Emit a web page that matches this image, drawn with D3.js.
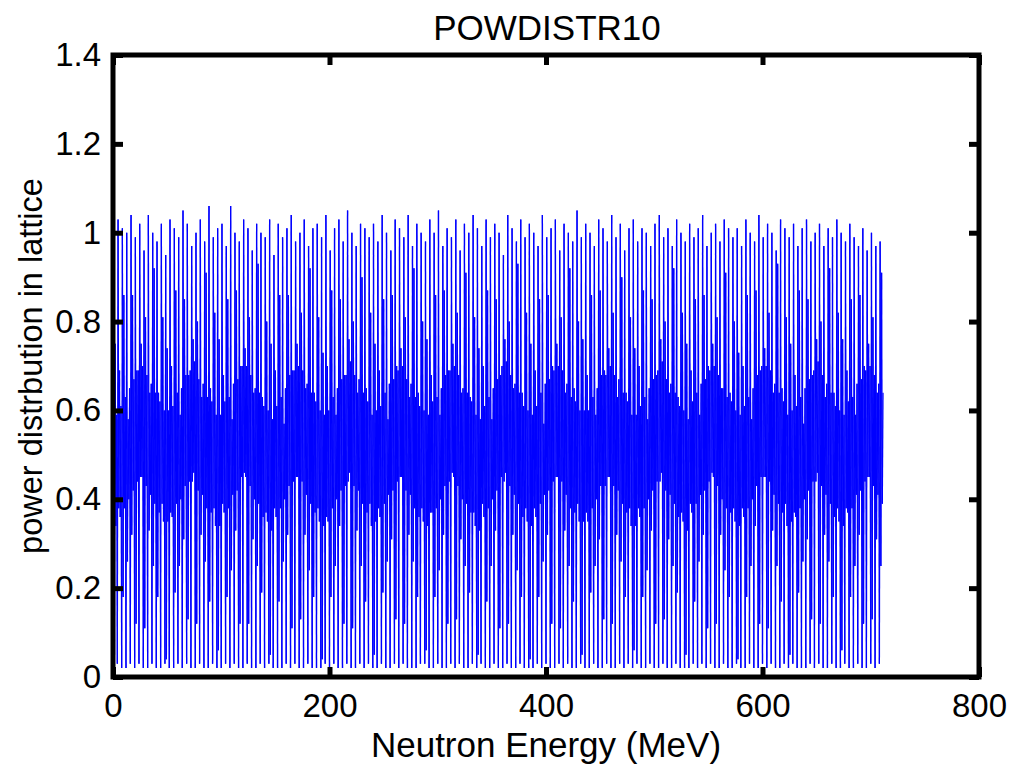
<!DOCTYPE html>
<html>
<head>
<meta charset="utf-8">
<script src="https://cdn.jsdelivr.net/npm/d3@7"></script>
<style>
  body { margin: 0; background: #fff; }
  text { font-family: "Liberation Sans", Arial, sans-serif; fill: #000; }
</style>
</head>
<body>
<div id="chart"></div>
<script>

// values, one entry per group of 6 samples (group = 4 MeV)
// floor of each group (the line almost touches zero every few MeV)
const floorVals = [
  0.02, 0.03, 0.02, 0.02, 0.03, 0.02, 0.03, 0.02, 0.02, 0.03, 0.02, 0.02,
  0.03, 0.02, 0.02, 0.03, 0.02, 0.03, 0.02, 0.02, 0.03, 0.02, 0.02, 0.03,
  0.02, 0.02, 0.03, 0.02, 0.03, 0.02, 0.02, 0.03, 0.02, 0.02, 0.03, 0.02,
  0.03, 0.02, 0.02, 0.02, 0.03, 0.02, 0.03, 0.02, 0.02, 0.03, 0.02, 0.02,
  0.02, 0.03, 0.02, 0.03, 0.02, 0.02, 0.03, 0.02, 0.02, 0.03, 0.02, 0.03,
  0.02, 0.02, 0.03, 0.02, 0.02, 0.03, 0.02, 0.03, 0.02, 0.02, 0.02, 0.03,
  0.03, 0.02, 0.02, 0.03, 0.02, 0.02, 0.03, 0.02, 0.03, 0.02, 0.02, 0.03,
  0.02, 0.03, 0.02, 0.02, 0.03, 0.02, 0.02, 0.03, 0.02, 0.02, 0.03, 0.02,
  0.02, 0.02, 0.03, 0.02, 0.03, 0.02, 0.02, 0.03, 0.02, 0.03, 0.02, 0.02,
  0.03, 0.02, 0.02, 0.03, 0.02, 0.02, 0.03, 0.02, 0.02, 0.03, 0.02, 0.03,
  0.02, 0.03, 0.02, 0.02, 0.03, 0.02, 0.02, 0.03, 0.02, 0.02, 0.03, 0.02,
  0.02, 0.02, 0.03, 0.02, 0.03, 0.02, 0.03, 0.02, 0.02, 0.03, 0.02, 0.02,
  0.03, 0.02, 0.02, 0.03, 0.02, 0.02, 0.03, 0.02, 0.03, 0.02, 0.02, 0.03,
  0.02, 0.03, 0.02, 0.02, 0.02, 0.03, 0.02, 0.03, 0.02, 0.02, 0.03, 0.02,
  0.02, 0.03, 0.02, 0.02, 0.03, 0.02, 0.02, 0.03, 0.02, 0.03
];

// the tall spikes along the top edge
const peakVals = [
  0.97, 1.03, 1.01, 1.00, 1.04, 0.99, 1.02, 0.96, 1.04, 1.00, 0.98, 1.02,
  0.95, 1.03, 1.01, 0.99, 1.05, 1.02, 0.97, 1.00, 1.03, 0.98, 1.06, 0.99,
  1.01, 1.02, 0.97, 1.06, 1.00, 0.98, 1.03, 1.01, 0.96, 1.02, 1.00, 0.99,
  1.03, 0.95, 1.02, 0.99, 1.01, 1.04, 0.98, 1.00, 1.03, 0.97, 1.01, 1.02,
  0.99, 1.04, 0.96, 1.01, 1.03, 0.98, 1.05, 1.00, 0.97, 1.02, 1.01, 0.99,
  1.02, 0.98, 1.04, 1.00, 0.96, 1.03, 1.01, 0.99, 1.04, 0.97, 1.02, 1.00,
  0.98, 1.03, 1.00, 1.05, 0.97, 1.01, 0.99, 1.03, 0.96, 1.02, 1.00, 1.04,
  1.01, 0.97, 1.03, 0.99, 1.02, 1.00, 0.95, 1.04, 1.01, 0.98, 1.03, 0.99,
  1.02, 1.00, 0.97, 1.04, 0.99, 1.01, 1.03, 0.96, 1.02, 1.00, 0.98, 1.05,
  0.99, 1.02, 1.00, 0.97, 1.03, 1.01, 0.98, 1.04, 0.99, 1.02, 0.96, 1.01,
  1.03, 0.98, 1.01, 1.00, 0.97, 1.02, 1.04, 0.99, 1.01, 0.97, 1.03, 1.00,
  0.98, 1.02, 0.99, 1.01, 1.04, 0.97, 1.00, 1.02, 0.98, 1.03, 1.01, 0.99,
  1.01, 0.97, 1.03, 1.00, 0.98, 1.04, 0.99, 1.02, 1.00, 0.96, 1.03, 1.01,
  0.99, 1.02, 0.97, 1.01, 1.03, 0.98, 1.00, 1.02, 0.97, 1.01, 0.99, 1.03,
  1.00, 0.98, 1.02, 0.99, 0.97, 1.01, 0.96, 1.00, 0.97, 0.98
];

// deep inner lows (diamonds in the lower half)
const lowVals = [
  0.05, 0.38, 0.18, 0.26, 0.32, 0.12, 0.45, 0.11, 0.33, 0.25, 0.18, 0.39,
  0.04, 0.37, 0.19, 0.25, 0.31, 0.13, 0.44, 0.12, 0.32, 0.26, 0.17, 0.38,
  0.06, 0.39, 0.18, 0.24, 0.33, 0.12, 0.46, 0.12, 0.31, 0.25, 0.19, 0.37,
  0.05, 0.38, 0.17, 0.26, 0.32, 0.11, 0.45, 0.13, 0.32, 0.24, 0.18, 0.38,
  0.04, 0.36, 0.18, 0.25, 0.34, 0.12, 0.44, 0.11, 0.33, 0.25, 0.17, 0.39,
  0.05, 0.38, 0.19, 0.26, 0.31, 0.13, 0.45, 0.12, 0.32, 0.26, 0.18, 0.38,
  0.06, 0.37, 0.18, 0.24, 0.32, 0.12, 0.46, 0.13, 0.31, 0.25, 0.19, 0.37,
  0.05, 0.39, 0.17, 0.25, 0.33, 0.11, 0.44, 0.12, 0.32, 0.24, 0.18, 0.38,
  0.04, 0.38, 0.18, 0.26, 0.32, 0.12, 0.45, 0.11, 0.33, 0.25, 0.17, 0.39,
  0.05, 0.37, 0.19, 0.25, 0.31, 0.13, 0.45, 0.12, 0.32, 0.26, 0.18, 0.38,
  0.06, 0.38, 0.18, 0.24, 0.33, 0.12, 0.44, 0.13, 0.31, 0.25, 0.19, 0.37,
  0.05, 0.39, 0.17, 0.26, 0.32, 0.11, 0.46, 0.12, 0.32, 0.24, 0.18, 0.38,
  0.04, 0.38, 0.18, 0.25, 0.34, 0.12, 0.45, 0.11, 0.33, 0.25, 0.17, 0.39,
  0.05, 0.37, 0.19, 0.26, 0.31, 0.13, 0.44, 0.12, 0.32, 0.26, 0.18, 0.38,
  0.06, 0.38, 0.18, 0.25, 0.32, 0.12, 0.45, 0.13, 0.31, 0.25
];

// outer highs (diamonds in the upper half)
const highVals = [
  0.75, 0.69, 0.86, 0.58, 0.86, 0.69, 0.75, 0.81, 0.64, 0.92, 0.64, 0.81,
  0.74, 0.70, 0.87, 0.59, 0.85, 0.68, 0.76, 0.80, 0.63, 0.91, 0.65, 0.82,
  0.76, 0.68, 0.85, 0.58, 0.87, 0.70, 0.74, 0.81, 0.64, 0.93, 0.63, 0.80,
  0.75, 0.69, 0.86, 0.57, 0.86, 0.69, 0.75, 0.82, 0.65, 0.92, 0.64, 0.81,
  0.73, 0.70, 0.87, 0.59, 0.85, 0.68, 0.76, 0.80, 0.64, 0.90, 0.65, 0.82,
  0.75, 0.69, 0.85, 0.58, 0.86, 0.70, 0.74, 0.81, 0.63, 0.92, 0.64, 0.80,
  0.76, 0.68, 0.86, 0.59, 0.87, 0.69, 0.75, 0.82, 0.64, 0.91, 0.63, 0.81,
  0.74, 0.70, 0.87, 0.58, 0.85, 0.68, 0.76, 0.80, 0.65, 0.93, 0.64, 0.82,
  0.75, 0.69, 0.85, 0.57, 0.86, 0.70, 0.75, 0.81, 0.64, 0.92, 0.65, 0.80,
  0.76, 0.68, 0.86, 0.59, 0.87, 0.69, 0.74, 0.82, 0.63, 0.90, 0.64, 0.81,
  0.74, 0.70, 0.87, 0.58, 0.85, 0.68, 0.76, 0.80, 0.64, 0.92, 0.63, 0.82,
  0.75, 0.69, 0.85, 0.59, 0.86, 0.70, 0.75, 0.81, 0.65, 0.91, 0.64, 0.80,
  0.73, 0.70, 0.86, 0.58, 0.87, 0.69, 0.74, 0.82, 0.64, 0.93, 0.65, 0.81,
  0.75, 0.68, 0.87, 0.57, 0.85, 0.68, 0.76, 0.80, 0.63, 0.92, 0.64, 0.82,
  0.76, 0.69, 0.85, 0.59, 0.86, 0.70, 0.75, 0.81, 0.64, 0.91
];

// shallow lows / highs that fill the dark band round 0.5
const bandLowVals = [
  0.34, 0.36, 0.38, 0.40, 0.42, 0.44, 0.45, 0.43, 0.41, 0.39, 0.37, 0.35,
  0.35, 0.36, 0.39, 0.40, 0.43, 0.44, 0.46, 0.42, 0.41, 0.38, 0.37, 0.34,
  0.34, 0.37, 0.38, 0.41, 0.42, 0.45, 0.45, 0.43, 0.40, 0.39, 0.36, 0.35,
  0.33, 0.36, 0.38, 0.40, 0.43, 0.44, 0.45, 0.44, 0.41, 0.39, 0.37, 0.35,
  0.34, 0.35, 0.38, 0.40, 0.42, 0.43, 0.46, 0.43, 0.42, 0.39, 0.37, 0.34,
  0.35, 0.36, 0.39, 0.41, 0.42, 0.44, 0.45, 0.42, 0.41, 0.38, 0.36, 0.35,
  0.34, 0.37, 0.38, 0.40, 0.43, 0.44, 0.45, 0.43, 0.40, 0.39, 0.37, 0.34,
  0.33, 0.36, 0.38, 0.40, 0.42, 0.45, 0.46, 0.43, 0.41, 0.39, 0.36, 0.35,
  0.34, 0.36, 0.39, 0.41, 0.42, 0.44, 0.45, 0.44, 0.41, 0.38, 0.37, 0.35,
  0.35, 0.35, 0.38, 0.40, 0.43, 0.43, 0.45, 0.43, 0.42, 0.39, 0.37, 0.34,
  0.34, 0.36, 0.38, 0.40, 0.42, 0.44, 0.46, 0.42, 0.41, 0.39, 0.36, 0.35,
  0.33, 0.37, 0.39, 0.41, 0.42, 0.44, 0.45, 0.43, 0.40, 0.38, 0.37, 0.35,
  0.34, 0.36, 0.38, 0.40, 0.43, 0.45, 0.45, 0.44, 0.41, 0.39, 0.37, 0.34,
  0.35, 0.36, 0.38, 0.40, 0.42, 0.44, 0.46, 0.43, 0.41, 0.39, 0.36, 0.35,
  0.34, 0.37, 0.38, 0.41, 0.42, 0.44, 0.45, 0.43, 0.41, 0.39
];

const bandHighVals = [
  0.59, 0.61, 0.63, 0.65, 0.67, 0.69, 0.70, 0.68, 0.66, 0.64, 0.62, 0.60,
  0.60, 0.61, 0.64, 0.65, 0.68, 0.69, 0.71, 0.67, 0.66, 0.63, 0.62, 0.59,
  0.59, 0.62, 0.63, 0.66, 0.67, 0.70, 0.70, 0.68, 0.65, 0.64, 0.61, 0.60,
  0.58, 0.61, 0.63, 0.65, 0.68, 0.69, 0.70, 0.69, 0.66, 0.64, 0.62, 0.60,
  0.59, 0.60, 0.63, 0.65, 0.67, 0.68, 0.71, 0.68, 0.67, 0.64, 0.62, 0.59,
  0.60, 0.61, 0.64, 0.66, 0.67, 0.69, 0.70, 0.67, 0.66, 0.63, 0.61, 0.60,
  0.59, 0.62, 0.63, 0.65, 0.68, 0.69, 0.70, 0.68, 0.65, 0.64, 0.62, 0.59,
  0.58, 0.61, 0.63, 0.65, 0.67, 0.70, 0.71, 0.68, 0.66, 0.64, 0.61, 0.60,
  0.59, 0.61, 0.64, 0.66, 0.67, 0.69, 0.70, 0.69, 0.66, 0.63, 0.62, 0.60,
  0.60, 0.60, 0.63, 0.65, 0.68, 0.68, 0.70, 0.68, 0.67, 0.64, 0.62, 0.59,
  0.59, 0.61, 0.63, 0.65, 0.67, 0.69, 0.71, 0.67, 0.66, 0.64, 0.61, 0.60,
  0.58, 0.62, 0.64, 0.66, 0.67, 0.69, 0.70, 0.68, 0.65, 0.63, 0.62, 0.60,
  0.59, 0.61, 0.63, 0.65, 0.68, 0.70, 0.70, 0.69, 0.66, 0.64, 0.62, 0.59,
  0.60, 0.61, 0.63, 0.65, 0.67, 0.69, 0.71, 0.68, 0.66, 0.64, 0.61, 0.60,
  0.59, 0.62, 0.63, 0.66, 0.67, 0.69, 0.70, 0.68, 0.66, 0.64
];

const xTicks = [0, 200, 400, 600, 800];
const yTicks = [0, 0.2, 0.4, 0.6, 0.8, 1, 1.2, 1.4];

// build the sample table: each 4 MeV group is floor, peak, low, high, band low, band high
let samples = [];
floorVals.forEach((f, i) => {
    let vals = [f, peakVals[i], lowVals[i], highVals[i], bandLowVals[i], bandHighVals[i]];
    vals.forEach((v, j) => {
        samples.push({x: 4 * i + j * 4 / 6, v: v});
    });
});

const width = 1012, height = 765;
const margin = {left: 113, right: 33, top: 55, bottom: 88};

const svg = d3.select("#chart").append("svg")
    .attr("width", width)
    .attr("height", height);

const x = d3.scaleLinear().domain([0, 800]).range([margin.left, width - margin.right]);
const y = d3.scaleLinear().domain([0, 1.4]).range([height - margin.bottom, margin.top]);

// the data line, one piece per step
const line = d3.line()
    .x(d => x(d.x))
    .y(d => y(d.v));

svg.append("g")
    .selectAll("path")
    .data(d3.pairs(samples))
    .enter()
    .append("path")
    .attr("d", d => line(d))
    .attr("fill", "none")
    .attr("stroke", "#0000ff")
    .attr("stroke-width", 1.25);

// axes, matlab style: ticks pointing in, on all four sides
const tickLen = 10;
const fmt = d => d3.format("~g")(d);

const xAxis = svg.append("g")
    .attr("transform", `translate(0,${y(0)})`)
    .call(d3.axisBottom(x).tickValues(xTicks).tickFormat(fmt).tickSizeInner(-tickLen).tickSizeOuter(0).tickPadding(17));

const yAxis = svg.append("g")
    .attr("transform", `translate(${x(0)},0)`)
    .call(d3.axisLeft(y).tickValues(yTicks).tickFormat(fmt).tickSizeInner(-tickLen).tickSizeOuter(0).tickPadding(12));

const xTop = svg.append("g")
    .attr("transform", `translate(0,${y(1.4)})`)
    .call(d3.axisTop(x).tickValues(xTicks).tickFormat("").tickSizeInner(-tickLen).tickSizeOuter(0));

const yRight = svg.append("g")
    .attr("transform", `translate(${x(800)},0)`)
    .call(d3.axisRight(y).tickValues(yTicks).tickFormat("").tickSizeInner(-tickLen).tickSizeOuter(0));

[xAxis, yAxis, xTop, yRight].forEach(g => {
    g.select(".domain").remove();
    g.selectAll(".tick line").attr("stroke", "#000").attr("stroke-width", 5);
    g.selectAll(".tick text")
        .style("font-family", "'Liberation Sans', Arial, sans-serif")
        .style("font-size", "33px")
        .attr("fill", "#000");
});

// box round the plot
svg.append("rect")
    .attr("x", x(0))
    .attr("y", y(1.4))
    .attr("width", x(800) - x(0))
    .attr("height", y(0) - y(1.4))
    .attr("fill", "none")
    .attr("stroke", "#000")
    .attr("stroke-width", 5);

// titles
svg.append("text")
    .attr("x", 547)
    .attr("y", 40)
    .attr("text-anchor", "middle")
    .style("font-size", "35px")
    .text("POWDISTR10");

svg.append("text")
    .attr("x", 546)
    .attr("y", 757)
    .attr("text-anchor", "middle")
    .style("font-size", "35px")
    .text("Neutron Energy (MeV)");

svg.append("text")
    .attr("transform", `translate(42,${(y(0) + y(1.4)) / 2}) rotate(-90)`)
    .attr("text-anchor", "middle")
    .style("font-size", "32.5px")
    .text("power distrbution in lattice");

</script>
</body>
</html>
